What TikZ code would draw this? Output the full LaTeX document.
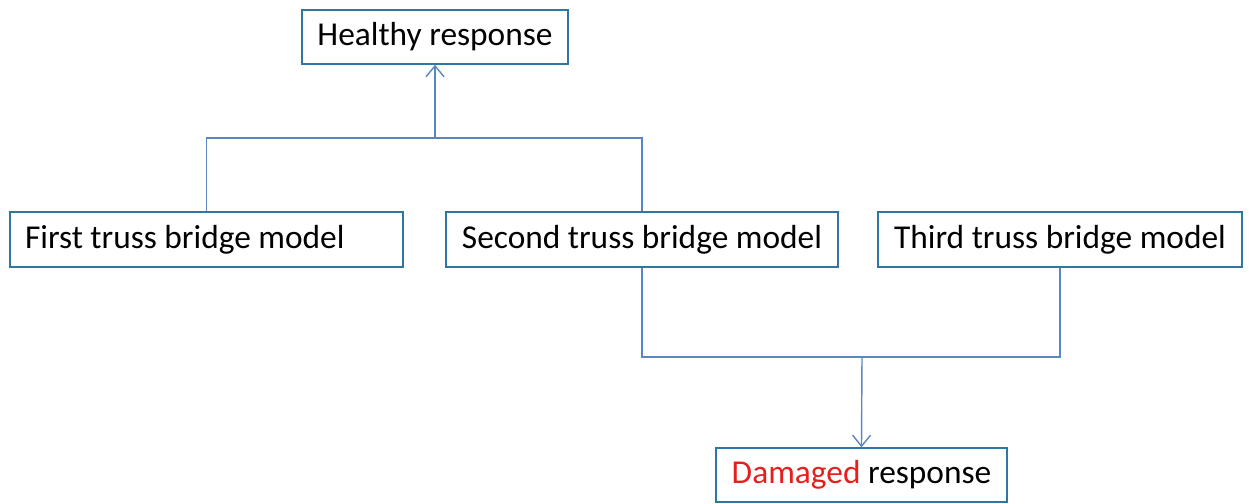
\documentclass[tikz,border=0pt]{standalone}
\usepackage{fontspec}
\setmainfont{Carlito}
\usepackage{tikz}
\usetikzlibrary{arrows.meta}
\definecolor{boxline}{RGB}{49,118,160}
\definecolor{linkline}{RGB}{90,135,195}
\definecolor{dmgred}{RGB}{230,30,30}
\tikzset{
	stage/.style={draw=boxline, line width=0.8pt, minimum height=1.1cm, inner xsep=0.3cm, inner ysep=0.1cm, font=\fontsize{19}{23}\selectfont},
	link/.style={draw=linkline, line width=0.8pt},
	flow/.style={link, -{Straight Barb[length=2.2mm, width=3.6mm]}}
}

\begin{document}
\begin{tikzpicture}[x=0.02cm, y=-0.02cm]
				\useasboundingbox (0,0) rectangle (1249,504);
				\node[stage, minimum width=5.32cm, minimum height=1.08cm] (healthy) at (435,37) {Healthy response};
				\node[stage, text width=7.26cm, align=flush left] (first) at (206.5,239.5) {First truss bridge model};
				\node[stage, minimum width=7.84cm] (second) at (642,239.5) {Second truss\ bridge model};
				\node[stage, minimum width=7.28cm] (third) at (1060,239.5) {Third truss bridge model};
				\node[stage, minimum width=5.82cm, minimum height=1.08cm] (damaged) at (861.5,475) {\textcolor{dmgred}{Damaged} response};
				\coordinate (topjoin) at (435,138);
				\coordinate (botjoin) at (862,357);
				\draw[link] (first.north) |- (topjoin) -| (second.north);
				\draw[flow] (topjoin) -- (healthy.south);
				\draw[link] (second.south) |- (botjoin) -| (third.south);
				\draw[flow] (botjoin) -- (damaged.north);
			\end{tikzpicture}
\end{document}
